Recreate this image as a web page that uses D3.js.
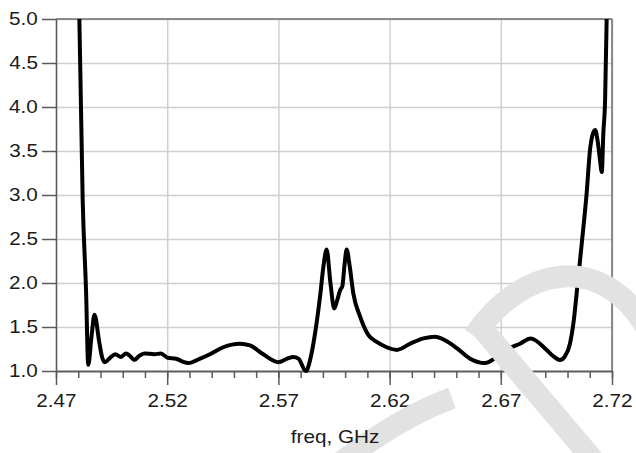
<!DOCTYPE html>
<html>
<head>
<meta charset="utf-8">
<script src="https://cdn.jsdelivr.net/npm/d3@7"></script>
<style>
  body { margin: 0; background: #fff; }
  svg { display: block; font-family: "Liberation Sans", Arial, sans-serif; }
  .grid line { stroke: #cfcfcf; stroke-width: 1.5; }
  .grid path { display: none; }
  .ax path, .ax line { stroke: #5a5a5a; stroke-width: 1.5; }
  .ax text, .lbl { font-size: 18px; fill: #1a1a1a;
    transform-box: fill-box; transform-origin: center; transform: scaleX(1.15); }
</style>
</head>
<body>
<div id="vis1"></div>
<script>
// frame
const FRAME_HEIGHT = 453;
const FRAME_WIDTH = 636;
const MARGINS = {left: 56, right: 24, top: 19, bottom: 82};
const VIS_WIDTH = FRAME_WIDTH - MARGINS.left - MARGINS.right;
const VIS_HEIGHT = FRAME_HEIGHT - MARGINS.top - MARGINS.bottom;

// data
const FREQ = [2.4805, 2.4820, 2.4835, 2.4845, 2.4860, 2.4873, 2.4895, 2.4907, 2.4920,
              2.4943, 2.4967, 2.4992, 2.5015, 2.5033, 2.5052, 2.5073, 2.5097, 2.5142,
              2.5172, 2.5202, 2.5240, 2.5267, 2.5295, 2.5348, 2.5392, 2.5452, 2.5491,
              2.5527, 2.5572, 2.5632, 2.5700, 2.5739, 2.5767, 2.5790, 2.5824, 2.5842,
              2.5865, 2.5887, 2.5902, 2.5917, 2.5934, 2.5951, 2.5964, 2.5978, 2.5988,
              2.5997, 2.6007, 2.6020, 2.6037, 2.6067, 2.6104, 2.6142, 2.6187, 2.6232,
              2.6292, 2.6352, 2.6404, 2.6449, 2.6502, 2.6562, 2.6629, 2.6682, 2.6741,
              2.6786, 2.6834, 2.6906, 2.6935, 2.6966, 2.6989, 2.7011, 2.7027, 2.7041,
              2.7064, 2.7086, 2.7101, 2.7112, 2.7124, 2.7135, 2.7146, 2.7154, 2.7161,
              2.7169, 2.7176];
const VSWR = [5.00, 2.94, 1.92, 1.07, 1.40, 1.64, 1.32, 1.16, 1.10,
              1.15, 1.19, 1.16, 1.20, 1.17, 1.125, 1.17, 1.20, 1.19,
              1.20, 1.15, 1.14, 1.11, 1.09, 1.14, 1.19, 1.27, 1.30,
              1.31, 1.29, 1.19, 1.10, 1.14, 1.16, 1.14, 1.00, 1.12,
              1.43, 1.84, 2.18, 2.38, 2.00, 1.71, 1.80, 1.92, 1.97,
              2.20, 2.38, 2.20, 1.88, 1.62, 1.41, 1.33, 1.27, 1.24,
              1.31, 1.37, 1.39, 1.35, 1.26, 1.14, 1.09, 1.16, 1.26,
              1.31, 1.37, 1.24, 1.17, 1.125, 1.17, 1.31, 1.55, 1.88,
              2.45, 3.02, 3.51, 3.68, 3.74, 3.62, 3.40, 3.26, 3.70,
              4.08, 5.00];

const X_TICKS = [2.47, 2.52, 2.57, 2.62, 2.67, 2.72];
const X_MINOR = d3.range(2.47, 2.7201, 0.01);
const Y_TICKS = [1.0, 1.5, 2.0, 2.5, 3.0, 3.5, 4.0, 4.5, 5.0];

const FRAME1 = d3.select("#vis1")
                  .append("svg")
                    .attr("height", FRAME_HEIGHT)
                    .attr("width", FRAME_WIDTH);

const X_SCALE = d3.scaleLinear().domain([2.47, 2.72]).range([0, VIS_WIDTH]);
const Y_SCALE = d3.scaleLinear().domain([1.0, 5.0]).range([VIS_HEIGHT, 0]);

const G = FRAME1.append("g")
      .attr("transform", "translate(" + MARGINS.left + "," + MARGINS.top + ")");

// gridlines
G.append("g").attr("class", "grid")
  .call(d3.axisLeft(Y_SCALE).tickValues(Y_TICKS).tickSize(-VIS_WIDTH).tickFormat(""));
G.append("g").attr("class", "grid")
  .call(d3.axisBottom(X_SCALE).tickValues(X_TICKS).tickSize(VIS_HEIGHT).tickFormat(""));

// watermark (faint logo in the background)
FRAME1.append("g")
  .attr("fill", "none")
  .attr("stroke", "#e2e2e2")
  .attr("stroke-width", 22)
  .selectAll("path")
  .data(["M480,326 L595,462",
         "M474,336 C520,268 600,248 648,330",
         "M336,466 Q398,418 452,398"])
  .enter().append("path").attr("d", (d) => d);

// frame: top and right borders
G.append("line").attr("x1", 0).attr("x2", VIS_WIDTH).attr("y1", 0).attr("y2", 0)
  .attr("stroke", "#6e6e6e").attr("stroke-width", 1.5);
G.append("line").attr("x1", VIS_WIDTH).attr("x2", VIS_WIDTH).attr("y1", 0).attr("y2", VIS_HEIGHT)
  .attr("stroke", "#6e6e6e").attr("stroke-width", 1.5);

// y axis
G.append("g").attr("class", "ax")
  .call(d3.axisLeft(Y_SCALE).tickValues(Y_TICKS).tickFormat(d3.format(".1f"))
        .tickSize(14).tickSizeOuter(0).tickPadding(6));

// x axis, minor then major ticks
G.append("g").attr("class", "ax")
  .attr("transform", "translate(0," + VIS_HEIGHT + ")")
  .call(d3.axisBottom(X_SCALE).tickValues(X_MINOR).tickSize(7).tickSizeOuter(0).tickFormat(""));
G.append("g").attr("class", "ax")
  .attr("transform", "translate(0," + VIS_HEIGHT + ")")
  .call(d3.axisBottom(X_SCALE).tickValues(X_TICKS).tickFormat(d3.format(".2f"))
        .tickSize(14).tickSizeOuter(0).tickPadding(9));

FRAME1.append("text")
  .attr("class", "lbl")
  .attr("x", MARGINS.left + VIS_WIDTH / 2 + 1)
  .attr("y", 443)
  .attr("text-anchor", "middle")
  .text("freq, GHz");

// curve
FRAME1.append("clipPath").attr("id", "clip")
  .append("rect").attr("x", 0).attr("y", 0).attr("width", VIS_WIDTH + 2).attr("height", VIS_HEIGHT + 3);

const DATA = FREQ.map((f, i) => ({f: f, v: VSWR[i]}));
const LINE = d3.line()
  .x((d) => X_SCALE(d.f))
  .y((d) => Y_SCALE(d.v))
  .curve(d3.curveMonotoneX);

G.append("path")
  .datum(DATA)
  .attr("clip-path", "url(#clip)")
  .attr("d", LINE)
  .attr("fill", "none")
  .attr("stroke", "#000")
  .attr("stroke-width", 4)
  .attr("stroke-linejoin", "round");
</script>
</body>
</html>
